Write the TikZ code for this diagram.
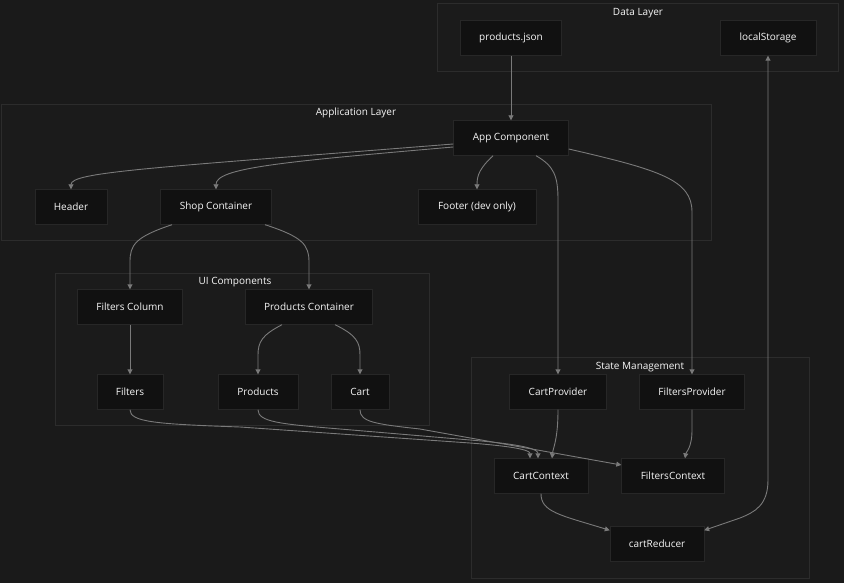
\documentclass[tikz,border=0pt]{standalone}
\usepackage{fontspec}
\setmainfont{Open Sans}
\usetikzlibrary{arrows.meta}
\definecolor{bgcol}{HTML}{1A1A1A}
\definecolor{clusterfill}{HTML}{1B1B1B}
\definecolor{clusterline}{HTML}{2C2C2C}
\definecolor{boxfill}{HTML}{111111}
\definecolor{boxline}{HTML}{272727}
\definecolor{labeltext}{HTML}{F7F7F7}
\definecolor{linkcol}{HTML}{7A7A7A}
\tikzset{
  box/.style={draw=boxline, fill=boxfill, text=labeltext, minimum height=35pt,
    inner sep=0pt, font=\fontsize{10}{12}\selectfont},
  cluster/.style={draw=clusterline, fill=clusterfill, line width=0.8pt},
  title/.style={text=labeltext, inner sep=0pt, font=\fontsize{10}{12}\selectfont},
  link/.style={draw=linkcol, line width=0.9pt, -{Triangle[length=5pt,width=5pt]}}
}
\begin{document}
\begin{tikzpicture}[x=1pt, y=-1pt]
      \fill[bgcol] (0,0) rectangle (844,583);
      \useasboundingbox (0,0) rectangle (844,583);
      % clusters
      \draw[cluster] (437,3) rectangle (838,71);
      \draw[cluster] (1,104) rectangle (711,240);
      \draw[cluster] (55,273) rectangle (429,425);
      \draw[cluster] (471,357) rectangle (809,578);
      \node[title] (datatitle) at (638,13) {Data Layer};
      \node[title] (apptitle) at (356,113) {Application Layer};
      \node[title] (uititle) at (235,282) {UI Components};
      \node[title] (statetitle) at (640,367) {State Management};
      % nodes
      \node[box, minimum width=101pt] (pjson) at (511,38) {products.json};
      \node[box, minimum width=96pt] (local) at (768,38) {localStorage};
      \node[box, minimum width=115pt] (app) at (511,138) {App Component};
      \node[box, minimum width=72pt] (header) at (71,207) {Header};
      \node[box, minimum width=111pt] (shop) at (216,207) {Shop Container};
      \node[box, minimum width=118pt] (footer) at (477,207) {Footer (dev only)};
      \node[box, minimum width=105pt] (fcol) at (130,307) {Filters Column};
      \node[box, minimum width=127pt] (pcont) at (309,307) {Products Container};
      \node[box, minimum width=66pt] (filters) at (130,392) {Filters};
      \node[box, minimum width=80pt] (products) at (258,392) {Products};
      \node[box, minimum width=58pt] (cart) at (360,392) {Cart};
      \node[box, minimum width=97pt] (cprov) at (558,392) {CartProvider};
      \node[box, minimum width=105pt] (fprov) at (692,392) {FiltersProvider};
      \node[box, minimum width=94pt] (cctx) at (541,476) {CartContext};
      \node[box, minimum width=103pt] (fctx) at (673,476) {FiltersContext};
      \node[box, minimum width=94pt] (reducer) at (657,544) {cartReducer};
      % links
      \begin{scope}[link]
        \draw (pjson) to (app);
        \draw ([yshift=-6]app.west) .. controls (150,168) and (71,172) .. (header.north);
        \draw ([yshift=-9]app.west) .. controls (280,162) and (216,168) .. (shop.north);
        \draw ([xshift=-18]app.south) .. controls (480,168) and (477,175) .. (footer.north);
        \draw ([xshift=25]app.south) .. controls (554,166) and (558,176) .. (558,200) -- (cprov.north);
        \draw ([yshift=-11]app.east) .. controls (660,170) and (692,180) .. (692,212) -- (fprov.north);
        \draw ([xshift=-44]shop.south) .. controls (135,237) and (130,245) .. (130,262) -- (fcol.north);
        \draw ([xshift=49]shop.south) .. controls (303,237) and (309,245) .. (309,262) -- (pcont.north);
        \draw (fcol) to (filters);
        \draw ([xshift=-27]pcont.south) .. controls (262,335) and (258,342) .. (258,355) -- (products.north);
        \draw ([xshift=26]pcont.south) .. controls (356,335) and (360,342) .. (360,355) -- (cart.north);
        \draw (filters.south) .. controls (130,422) and (155,424) .. (240,427) -- (470,443)
          .. controls (522,447) and (530,451) .. ([xshift=-11]cctx.north);
        \draw (products.south) .. controls (258,422) and (280,424) .. (340,429) -- (470,440)
          .. controls (530,445) and (538,450) .. ([xshift=-3]cctx.north);
        \draw (cart.south) .. controls (360,422) and (375,424) .. (420,429) -- ([yshift=11]fctx.west);
        \draw (cprov.south) .. controls (558,440) and (553,448) .. ([xshift=11]cctx.north);
        \draw (fprov.south) -- (692,430) .. controls (692,448) and (686,452) .. ([xshift=12]fctx.north);
        \draw (cctx.south) .. controls (541,512) and (560,515) .. ([yshift=-4]reducer.north west);
        \draw[{Triangle[length=5pt,width=5pt]}-{Triangle[length=5pt,width=5pt]}] (local.south) -- (768,480)
          .. controls (768,505) and (755,512) .. (740,518) -- ([yshift=-4]reducer.north east);
      \end{scope}
    \end{tikzpicture}
\end{document}
